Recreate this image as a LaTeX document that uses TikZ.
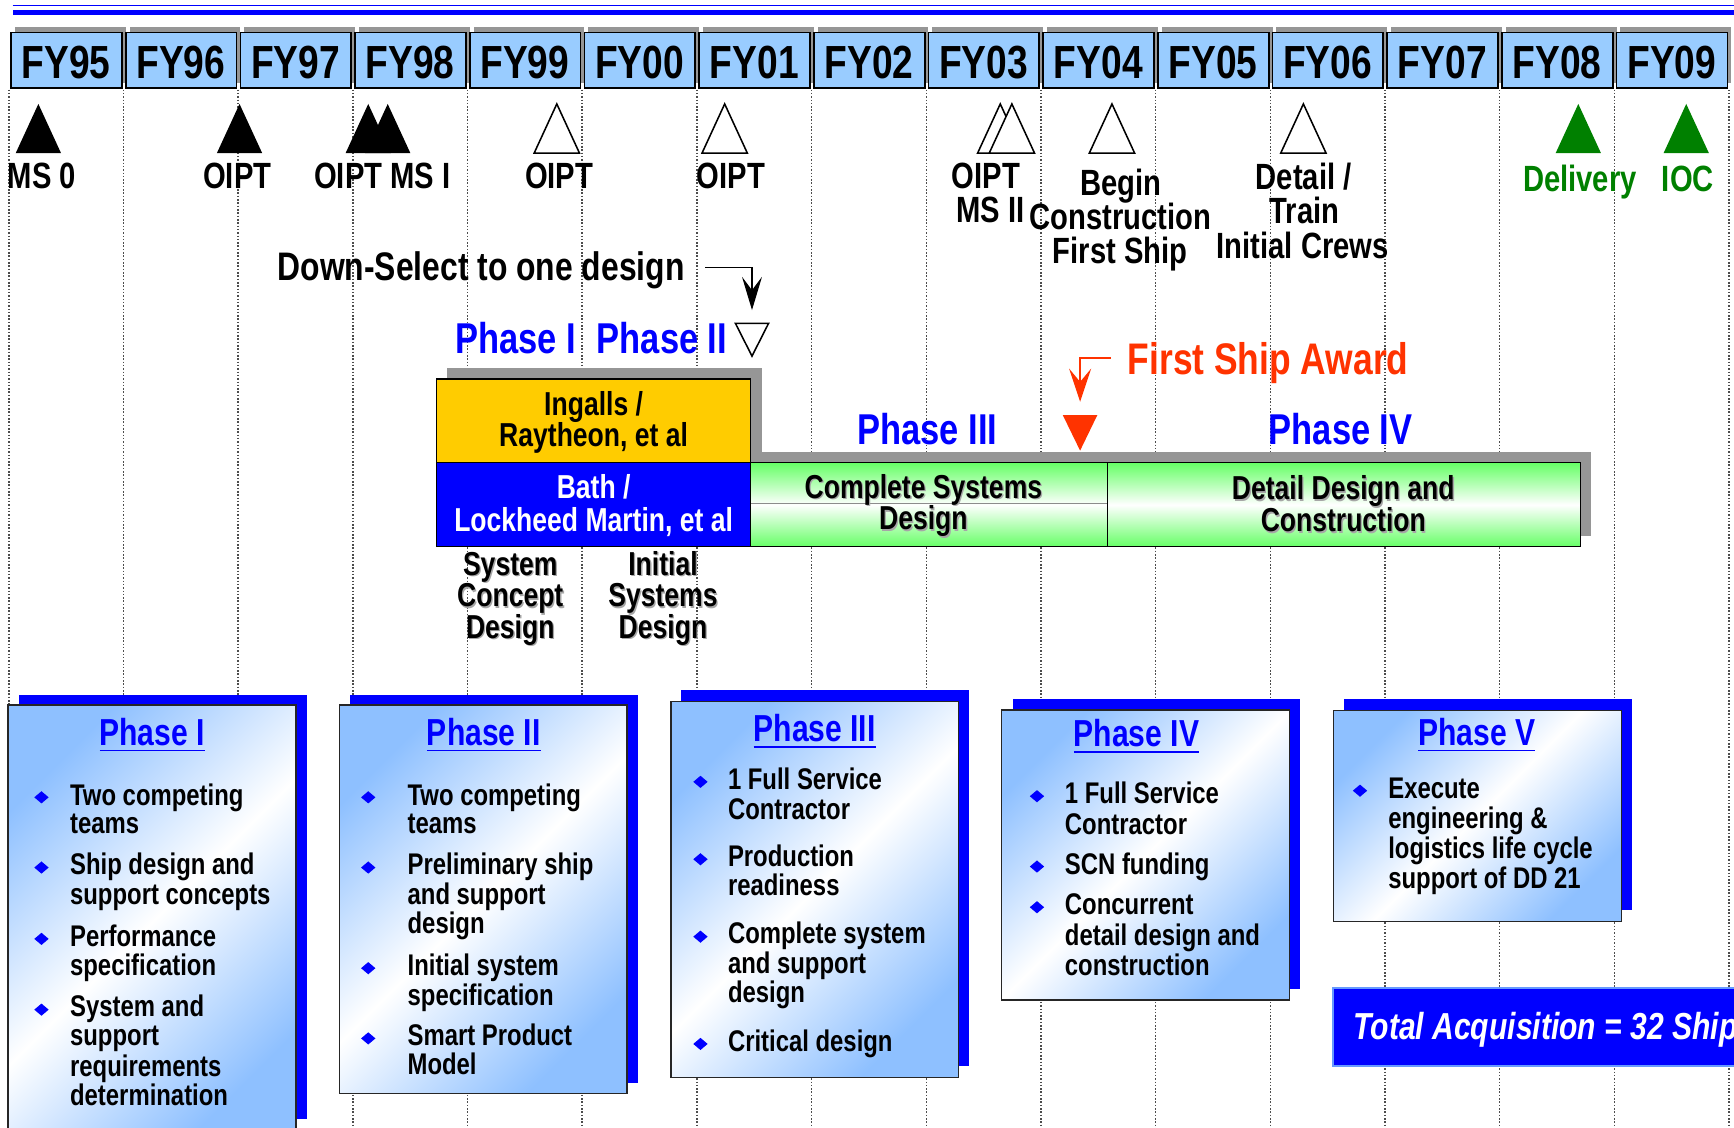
\documentclass[tikz,border=0pt]{standalone}
\usepackage{fontspec}
\setmainfont{Liberation Sans}[FakeStretch=0.8]
\usetikzlibrary{arrows.meta,shapes.geometric}
\definecolor{yrblue}{HTML}{99CCFF}
\definecolor{shgray}{HTML}{969696}
\definecolor{ylw}{HTML}{FFCC00}
\definecolor{pblue}{HTML}{0000FF}
\definecolor{lgreen}{HTML}{66FF66}
\definecolor{award}{HTML}{FF3300}
\definecolor{msgreen}{HTML}{008000}
\definecolor{panelblue}{HTML}{8EC0FF}
\definecolor{tacborder}{HTML}{6699FF}
\newcommand\fnt[2]{\fontsize{#1}{#2}\selectfont\bfseries}
\newcommand\shnode[4]{\node[#1,shadowtxt] (#2s) at (#3) {#4};\node[#1] (#2) at (#3) {#4};}
\newcommand\mtri[2]{\path[#1] (#2-20.5,138.5) -- (#2,94) -- (#2+20.5,138.5) -- cycle;}
\begin{document}
\begin{tikzpicture}[x=0.5pt,y=-0.5pt,
  every node/.style={inner sep=0pt,outer sep=0pt},
  dotline/.style={draw=black!70,line width=0.7pt,dash pattern=on 0.7pt off 0.8pt},
  yrbox/.style={draw=black,line width=0.8pt,fill=yrblue},
  yrlabel/.style={font=\fnt{21}{21},anchor=base},
  mslabel/.style={font=\fnt{16.5}{16},anchor=base},
  filledtri/.style={fill=black},
  opentri/.style={draw=black,line width=0.7pt,fill=white,line join=miter},
  greentri/.style={fill=msgreen},
  phaselbl/.style={font=\fnt{19.5}{20},text=pblue,anchor=base},
  bartext/.style={font=\fnt{15}{15},anchor=base},
  shadowtxt/.style={text=black!35,xshift=0.6pt,yshift=-0.6pt},
  barbox/.style={draw=black,line width=0.5pt},
  ptitle/.style={font=\fnt{17}{17},text=pblue,anchor=base},
  uline/.style={draw=pblue,line width=0.8pt},
  ptext/.style={font=\fnt{13.5}{13},anchor=base west},
  pbullet/.style={diamond,fill=pblue,minimum width=6.5pt,minimum height=5.5pt,inner sep=0pt},
  pshadow/.style={fill=pblue},
  pborder/.style={draw=black!85,line width=0.6pt},
  pshade/.style={top color=panelblue,bottom color=panelblue,middle color=white,shading angle=45},
  gshade/.style={top color=lgreen,bottom color=lgreen,middle color=white}
]
\useasboundingbox (0,0) rectangle (1568,1020);
\clip (0,0) rectangle (1568,1020);
\fill[white] (0,0) rectangle (1568,1020);

% dotted year lines
\foreach \i in {0,...,15}{
  \draw[dotline] (8+103.7*\i,81) -- (8+103.7*\i,1020);
}

% top blue lines
\draw[pblue,line width=0.6pt] (11.5,5.2) -- (1568,5.2);
\fill[pblue] (11.5,9) rectangle (1568,13.6);

% year boxes
\foreach \lab [count=\i from 0] in {FY95,FY96,FY97,FY98,FY99,FY00,FY01,FY02,FY03,FY04,FY05,FY06,FY07,FY08,FY09}{
  \pgfmathsetmacro\xl{8+103.7*\i}
  \pgfmathsetmacro\xr{8+103.7*(\i+1)}
  \fill[shgray] (\xl+5.5,24.7) rectangle (\xr+2,74.8);
  \draw[yrbox] (\xl+2,29.3) rectangle (\xr-1.5,79.4);
  \node[yrlabel] (fy\i) at ({(\xl+\xr)/2},71.3) {\lab};
}

% milestones
\mtri{filledtri}{34.7}
\mtri{filledtri}{216.6}
\mtri{filledtri}{333}
\mtri{filledtri}{350.6}
\mtri{opentri}{503.5}
\mtri{opentri}{655.3}
\mtri{opentri}{904.5}
\mtri{opentri}{915}
\mtri{opentri}{1005.5}
\mtri{opentri}{1178.6}
\mtri{greentri}{1427.2}
\mtri{greentri}{1524.8}

\node[mslabel] (ms0) at (38,170.3) {MS 0};
\node[mslabel] (oipt97) at (214.6,170.3) {OIPT};
\node[mslabel] (oipt98) at (345.7,170.3) {OIPT MS I};
\node[mslabel] (oipt99) at (505.6,170.3) {OIPT};
\node[mslabel] (oipt01) at (660.8,170.3) {OIPT};
\node[mslabel] (oipt03) at (891.4,170.3) {OIPT};
\node[mslabel] (ms2) at (895.6,201.5) {MS II};
\node[mslabel] (beg1) at (1013.7,176.5) {Begin};
\node[mslabel] (beg2) at (1013,207.5) {Construction};
\node[mslabel] (beg3) at (1013,238.5) {First Ship};
\node[mslabel] (det1) at (1178.8,171) {Detail /};
\node[mslabel] (det2) at (1179.5,202.5) {Train};
\node[mslabel] (det3) at (1178,234) {Initial Crews};
\node[mslabel,text=msgreen] (deliv) at (1428.7,173) {Delivery};
\node[mslabel,text=msgreen] (ioc) at (1526.3,173) {IOC};

% down-select
\node[font=\fnt{18}{18},anchor=base] (ds) at (435,253.8) {Down-Select to one design};
\path[draw=black,line width=0.7pt,fill=white,line join=miter] (665,292.4) -- (695,292.4) -- (680,322) -- cycle;
\coordinate (dstri) at (680,292.4);
\coordinate (dsstart) at (637.9,242);
\draw[line width=0.7pt,-{Stealth[length=15pt,width=9pt,inset=6pt]},shorten >=6pt] (dsstart) -| (dstri);

\node[phaselbl] (ph1) at (466.5,319.5) {Phase I};
\node[phaselbl] (ph2) at (598.6,319.5) {Phase II};
\node[phaselbl] (ph3) at (838.7,402.4) {Phase III};
\node[phaselbl] (ph4) at (1212.3,402.4) {Phase IV};

% first ship award
\node[font=\fnt{20}{20},text=award,anchor=base] (fsa) at (1146.7,339.1) {First Ship Award};
\fill[award] (961,375.3) -- (992.3,375.3) -- (976.7,407.5) -- cycle;
\coordinate (redtri) at (976.7,375.3);
\coordinate (fsastart) at (1004.6,324);
\draw[award,line width=0.8pt,-{Stealth[length=15pt,width=10pt,inset=6pt]},shorten >=6pt] (fsastart) -| (redtri);

% gantt shadows
\fill[shgray] (404.2,333) rectangle (689,418.4);
\fill[shgray] (689,408.4) rectangle (1438.7,484.7);
% gantt bars
\draw[barbox,fill=ylw] (395,342.7) rectangle (678.7,418.4);
\draw[barbox,fill=pblue] (395,418.4) rectangle (678.7,494.5);
\shade[gshade] (678.7,418.4) rectangle (1001.6,494.5);
\draw[black!45,line width=0.5pt] (678.7,455.7) -- (1001.6,455.7);
\draw[barbox] (678.7,418.4) rectangle (1001.6,494.5);
\shade[gshade] (1001.6,418.4) rectangle (1429,494.5);
\draw[barbox] (1001.6,418.4) rectangle (1429,494.5);

\node[bartext] (ing1) at (536.8,375.3) {Ingalls /};
\node[bartext] (ing2) at (536.8,403.9) {Raytheon, et al};
\node[bartext,text=white] (bath1) at (536.8,450.6) {Bath /};
\node[bartext,text=white] (bath2) at (536.8,480.8) {Lockheed Martin, et al};
\shnode{bartext}{cs1}{835,450.6}{Complete Systems}
\shnode{bartext}{cs2}{835,479.2}{Design}
\shnode{bartext}{dd1}{1214.7,452}{Detail Design and}
\shnode{bartext}{dd2}{1214.7,480.8}{Construction}

\shnode{bartext}{sc1}{461.4,520}{System}
\shnode{bartext}{sc2}{461.4,548.6}{Concept}
\shnode{bartext}{sc3}{461.4,577.2}{Design}
\shnode{bartext}{is1}{599.5,520}{Initial}
\shnode{bartext}{is2}{599.5,548.6}{Systems}
\shnode{bartext}{is3}{599.5,577.2}{Design}

% ---------- panels ----------
% Panel I
\fill[pshadow] (17.4,628.5) rectangle (277.7,1012);
\shade[pshade] (7.3,637.5) rectangle (267.7,1030);
\draw[pborder] (7.3,637.5) rectangle (267.7,1030);
\node[ptitle] (t1) at (137.6,673.7) {Phase I};
\draw[uline] ([yshift=-2.5pt]t1.base west) -- ([yshift=-2.5pt]t1.base east);
\foreach \yy/\tt [count=\k] in {728/Two competing,754/teams,791/Ship design and,817.5/support concepts,856/Performance,882.5/specification,919.3/System and,945.8/support,973/requirements,1000/determination}{
  \node[ptext] (pa\k) at (63.4,\yy) {\tt};
}
\foreach \yy [count=\k] in {721,784.5,849,913}{
  \node[pbullet] (ba\k) at (37.5,\yy) {};
}

% Panel II
\fill[pshadow] (316.8,628.5) rectangle (576.5,979.5);
\shade[pshade] (306.7,637.5) rectangle (567,989);
\draw[pborder] (306.7,637.5) rectangle (567,989);
\node[ptitle] (t2) at (437.5,673.7) {Phase II};
\draw[uline] ([yshift=-2.5pt]t2.base west) -- ([yshift=-2.5pt]t2.base east);
\foreach \yy/\tt [count=\k] in {728/Two competing,754/teams,791/Preliminary ship,817.5/and support,844/design,882.5/Initial system,908.8/specification,945.8/Smart Product,972/Model}{
  \node[ptext] (pb\k) at (368.6,\yy) {\tt};
}
\foreach \yy [count=\k] in {721,784.5,875.5,939}{
  \node[pbullet] (bb\k) at (333,\yy) {};
}

% Panel III
\fill[pshadow] (616,624) rectangle (876.3,964);
\shade[pshade] (606.8,634.5) rectangle (867,974.5);
\draw[pborder] (606.8,634.5) rectangle (867,974.5);
\node[ptitle] (t3) at (736.7,670.6) {Phase III};
\draw[uline] ([yshift=-2.5pt]t3.base west) -- ([yshift=-2.5pt]t3.base east);
\foreach \yy/\tt [count=\k] in {713.8/1 Full Service,740.9/Contractor,783.7/Production,810.2/readiness,853.6/Complete system,880.7/and support,906.7/design,951/Critical design}{
  \node[ptext] (pc\k) at (658.3,\yy) {\tt};
}
\foreach \yy [count=\k] in {707,777,847,944}{
  \node[pbullet] (bc\k) at (633.4,\yy) {};
}

% Panel IV
\fill[pshadow] (915.6,632.4) rectangle (1175.2,894.6);
\shade[pshade] (905.9,642) rectangle (1166.2,904.3);
\draw[pborder] (905.9,642) rectangle (1166.2,904.3);
\node[ptitle] (t4) at (1027.7,675.2) {Phase IV};
\draw[uline] ([yshift=-2.5pt]t4.base west) -- ([yshift=-2.5pt]t4.base east);
\foreach \yy/\tt [count=\k] in {727/1 Full Service,754.2/Contractor,790.6/SCN funding,827.4/Concurrent,855.1/detail design and,882.5/construction}{
  \node[ptext] (pd\k) at (963,\yy) {\tt};
}
\foreach \yy [count=\k] in {720,783.6,820.4}{
  \node[pbullet] (bd\k) at (937.7,\yy) {};
}

% Panel V
\fill[pshadow] (1215.6,632.4) rectangle (1475.8,822.9);
\shade[pshade] (1205.7,642.6) rectangle (1466.4,833.4);
\draw[pborder] (1205.7,642.6) rectangle (1466.4,833.4);
\node[ptitle] (t5) at (1335.3,673.7) {Phase V};
\draw[uline] ([yshift=-2.5pt]t5.base west) -- ([yshift=-2.5pt]t5.base east);
\foreach \yy/\tt [count=\k] in {722/Execute,749/engineering \&,776/logistics life cycle,803/support of DD 21}{
  \node[ptext] (pe\k) at (1255.4,\yy) {\tt};
}
\node[pbullet] (be1) at (1229.8,715) {};

% Total acquisition
\draw[fill=pblue,draw=tacborder,line width=1pt] (1205.7,893.7) rectangle (1600,964);
\node[font=\fontsize{17}{17}\selectfont\bfseries\itshape,text=white,anchor=base west] (tac) at (1223.8,940.4) {Total Acquisition = 32 Ships};
\end{tikzpicture}
\end{document}
